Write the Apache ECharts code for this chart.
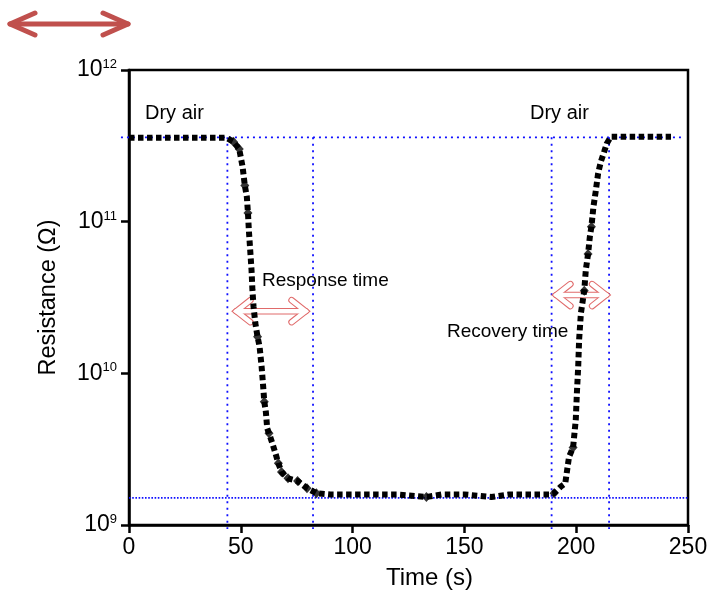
<!DOCTYPE html>
<html><head><meta charset="utf-8">
<script src="https://cdn.jsdelivr.net/npm/echarts@6/dist/echarts.min.js"></script>
<style>html,body{margin:0;padding:0;background:#fff}#c{width:711px;height:594px}</style>
</head><body><div id="c"></div>
<script>
// ---- data ----
const timeValues = [0, 43.5, 46.7, 49.3, 50.8, 51.8, 52.7, 53.2, 53.6, 54.2, 54.8, 55.2, 55.7, 56.5, 57.5, 58.4, 59.3, 59.9, 60.5, 61.2, 61.8, 62.6, 64.1, 65.5, 66.8, 68.2, 71.1, 75.4, 79.6, 83.8, 90, 100, 110, 120, 133, 140, 150, 162, 170, 180, 188, 190.1, 193.1, 195.1, 196.8, 198.6, 199.8, 200.3, 200.9, 201.3, 202.1, 203.6, 204.3, 205.3, 206.1, 206.8, 207.7, 208.8, 209.8, 211, 212.5, 213.7, 215.5, 242.4];
const resistanceValues = [3.57e11, 3.57e11, 3.37e11, 3.01e11, 2.30e11, 1.73e11, 1.46e11, 1.14e11, 8.81e10, 6.50e10, 4.80e10, 3.54e10, 2.75e10, 2.14e10, 1.74e10, 1.50e10, 1.11e10, 8.59e9, 6.50e9, 5.58e9, 4.34e9, 4.02e9, 3.46e9, 2.97e9, 2.55e9, 2.24e9, 2.03e9, 1.95e9, 1.75e9, 1.62e9, 1.59e9, 1.59e9, 1.59e9, 1.59e9, 1.53e9, 1.59e9, 1.59e9, 1.53e9, 1.59e9, 1.59e9, 1.59e9, 1.62e9, 1.79e9, 1.88e9, 2.82e9, 3.24e9, 4.92e9, 7.38e9, 1.11e10, 1.66e10, 2.49e10, 3.51e10, 4.80e10, 6.11e10, 7.94e10, 9.25e10, 1.25e11, 1.61e11, 2.08e11, 2.48e11, 2.89e11, 3.28e11, 3.63e11, 3.63e11];
const diamondTimes = [46.7, 49.3, 51.8, 53.2, 57.5, 60.5, 62.6, 66.8, 68.2, 71.1, 75.4, 79.6, 83.8, 133, 190.1, 198.6, 203.6, 205.3, 206.8];
const diamondResistances = [3.37e11, 3.01e11, 1.73e11, 1.14e11, 1.74e10, 6.50e9, 4.02e9, 2.55e9, 2.24e9, 2.03e9, 1.95e9, 1.75e9, 1.62e9, 1.53e9, 1.62e9, 3.24e9, 3.51e10, 6.11e10, 9.25e10];
const xTickValues = [0, 50, 100, 150, 200, 250];
const yTickExponents = [9, 10, 11, 12];
const dryAirLevel = 3.6e11;
const wetLevel = 1.51e9;
const responseStart = 44, responseEnd = 82.3;
const recoveryStart = 189, recoveryEnd = 214.7;
const responseArrow = {from: 46.7, to: 80.3, level: 2.57e10};
const recoveryArrow = {from: 189.8, to: 214.7, level: 3.28e10};
const annotationTexts = ['Dry air', 'Dry air', 'Response time', 'Recovery time'];

// ---- chart ----
const REG = '"Liberation Sans", Arial, sans-serif';
const chart = echarts.init(document.getElementById('c'), null, {renderer: 'canvas'});

const lineData = timeValues.map((t, i) => [t, resistanceValues[i]]);
const diamondData = diamondTimes.map((t, i) => [t, diamondResistances[i]]);

chart.setOption({
  animation: false,
  backgroundColor: '#fff',
  grid: {left: 129, right: 23, top: 70, bottom: 69, show: true, borderColor: '#000', borderWidth: 2.5, outerBoundsMode: 'none', containLabel: false},
  xAxis: {
    type: 'value', min: xTickValues[0], max: xTickValues[xTickValues.length - 1], interval: 50,
    name: 'Time (s)', nameLocation: 'middle', nameGap: 41,
    nameTextStyle: {fontFamily: REG, fontSize: 24, color: '#000', padding: [0, 0, 0, 42]},
    axisLine: {lineStyle: {color: '#000', width: 2.5}},
    axisTick: {inside: false, length: 8, lineStyle: {color: '#000', width: 2.5}},
    axisLabel: {fontFamily: REG, fontSize: 23, color: '#000', margin: 11},
    splitLine: {show: false}
  },
  yAxis: {
    type: 'log', logBase: 10, min: Math.pow(10, yTickExponents[0]), max: Math.pow(10, yTickExponents[yTickExponents.length - 1]),
    name: 'Resistance (Ω)', nameLocation: 'middle', nameGap: 68,
    nameTextStyle: {fontFamily: REG, fontSize: 23.5, color: '#000'},
    axisLine: {lineStyle: {color: '#000', width: 2.5}},
    axisTick: {inside: false, length: 8, lineStyle: {color: '#000', width: 2.5}},
    minorTick: {show: false},
    axisLabel: {
      margin: 12,
      formatter: v => '{b|10}{s|' + Math.round(Math.log10(v)) + '}',
      rich: {
        b: {fontFamily: REG, fontSize: 23, color: '#000', lineHeight: 24},
        s: {fontFamily: REG, fontSize: 13, color: '#000', verticalAlign: 'top', lineHeight: 14}
      }
    },
    splitLine: {show: false}
  },
  series: [
    {
      type: 'line', data: lineData, symbol: 'none', z: 3,
      lineStyle: {color: '#000', width: 6, type: [5.5, 3.5], cap: 'butt'}
    },
    {
      type: 'scatter', data: diamondData, symbol: 'diamond', symbolSize: [9, 10], z: 4,
      itemStyle: {color: '#000'}
    }
  ]
});

const P = (x, y) => chart.convertToPixel({seriesIndex: 0}, [x, y]);
const graphics = [];
const blue = '#1010ff';
function addLine(a, b, dash) {
  graphics.push({type: 'line', z: 1, silent: true,
    shape: {x1: a[0], y1: a[1], x2: b[0], y2: b[1]},
    style: {stroke: blue, lineWidth: 1.8, lineDash: dash}});
}
const belowAxis = Math.pow(10, yTickExponents[0] - 0.026);
addLine(P(-3.6, dryAirLevel), P(247, dryAirLevel), [2, 4]);
addLine(P(0, wetLevel), P(250, wetLevel), [1.6, 1.6]);
[responseStart, responseEnd, recoveryStart, recoveryEnd].forEach(t => {
  addLine(P(t, dryAirLevel), P(t, belowAxis), [2, 4.5]);
});

function arrowPaths(x1, x2, y, hx, hy) {
  return [
    [[x1, y], [x2, y]],
    [[x1 + hx, y - hy], [x1, y], [x1 + hx, y + hy]],
    [[x2 - hx, y - hy], [x2, y], [x2 - hx, y + hy]]
  ];
}
function addHollowArrow(arr) {
  const a = P(arr.from, arr.level), b = P(arr.to, arr.level);
  const paths = arrowPaths(a[0] + 3, b[0] - 3, a[1], 14, 11);
  paths.forEach(pts => graphics.push({type: 'polyline', z: 1, silent: true, shape: {points: pts},
    style: {stroke: '#e06a6a', lineWidth: 6.5, fill: null, lineJoin: 'miter', lineCap: 'round'}}));
  paths.forEach(pts => graphics.push({type: 'polyline', z: 1, silent: true, shape: {points: pts},
    style: {stroke: '#fff', lineWidth: 4.5, fill: null, lineJoin: 'miter', lineCap: 'round'}}));
}
addHollowArrow(responseArrow);
addHollowArrow(recoveryArrow);

// decorative big arrow at top left
arrowPaths(10, 128, 24, 25, 11).forEach(pts => graphics.push({type: 'polyline', z: 5, silent: true,
  shape: {points: pts}, style: {stroke: '#c0504d', lineWidth: 5, fill: null, lineCap: 'round', lineJoin: 'round'}}));

function addText(txt, x, y, size) {
  graphics.push({type: 'text', z: 10, silent: true, x: x, y: y,
    style: {text: txt, fill: '#000', font: size + 'px ' + REG, textVerticalAlign: 'middle', textAlign: 'left'}});
}
addText(annotationTexts[0], 145, 113, 20);
addText(annotationTexts[1], 530, 113, 20);
addText(annotationTexts[2], 262, 281, 19);
addText(annotationTexts[3], 447, 332, 19);

chart.setOption({graphic: graphics});
</script></body></html>
